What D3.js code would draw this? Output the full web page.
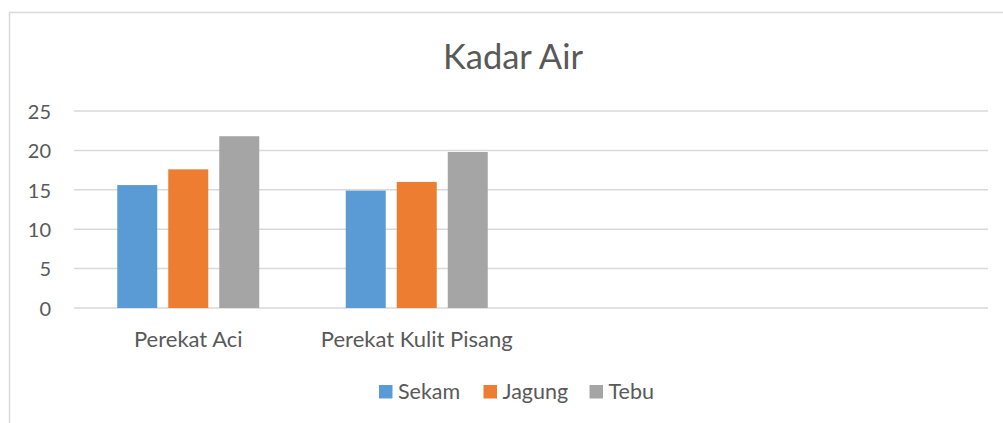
<!DOCTYPE html>
<html>
<head>
<meta charset="utf-8">
<script src="https://cdn.jsdelivr.net/npm/d3@7"></script>
<style>
  html, body { margin: 0; padding: 0; background: #fff; }
  svg { display: block; }
  text { font-family: Lato, "Open Sans", sans-serif; fill: #595959; }
</style>
</head>
<body>
<svg id="chart" width="1003" height="423"></svg>
<script>
const title = "Kadar Air";
const categories = ["Perekat Aci", "Perekat Kulit Pisang", "", ""];
const seriesNames = ["Sekam", "Jagung", "Tebu"];
const sekam = [15.6, 14.9, null, null];
const jagung = [17.6, 16.0, null, null];
const tebu = [21.8, 19.8, null, null];
const yTicks = [0, 5, 10, 15, 20, 25];
const colors = ["#5b9bd5", "#ed7d31", "#a5a5a5"];

const seriesValues = [sekam, jagung, tebu];

const svg = d3.select("#chart");
const W = 1003, H = 423;

// outer chart border
svg.append("rect")
  .attr("x", 9.5).attr("y", 12.5)
  .attr("width", W + 10).attr("height", H + 10)
  .attr("fill", "none").attr("stroke", "#d9d9d9").attr("stroke-width", 1.5);

const plot = { left: 74, right: 988, top: 111, bottom: 308 };

const x = d3.scaleBand()
  .domain(d3.range(categories.length))
  .range([plot.left, plot.right]);

const groupWidth = 142;
const xs = d3.scaleBand()
  .domain(seriesNames)
  .range([0, groupWidth])
  .paddingInner(0.216)
  .paddingOuter(0);

const y = d3.scaleLinear().domain([0, 25]).range([plot.bottom, plot.top]);

// gridlines
svg.append("g")
  .selectAll("line")
  .data(yTicks)
  .join("line")
  .attr("x1", plot.left).attr("x2", plot.right)
  .attr("y1", d => y(d)).attr("y2", d => y(d))
  .attr("stroke", "#d9d9d9").attr("stroke-width", 1.5);

// y axis labels
const yAxis = d3.axisLeft(y).tickValues(yTicks).tickSize(0).tickPadding(0);
const yg = svg.append("g").attr("transform", `translate(51,0)`).call(yAxis);
yg.select(".domain").remove();
yg.selectAll("text")
  .attr("font-family", "Lato, 'Open Sans', sans-serif")
  .attr("font-size", 20)
  .attr("fill", "#595959")
  .attr("dy", "0.36em");

// bars
const bars = svg.append("g");
categories.forEach((c, i) => {
  const gx = x(i) + (x.bandwidth() - groupWidth) / 2;
  seriesNames.forEach((s, k) => {
    const v = seriesValues[k][i];
    if (v == null) return;
    bars.append("rect")
      .attr("x", gx + xs(s))
      .attr("y", y(v))
      .attr("width", xs.bandwidth())
      .attr("height", y(0) - y(v))
      .attr("fill", colors[k]);
  });
});

// x axis category labels
const xAxis = d3.axisBottom(x).tickFormat(i => categories[i]).tickSize(0).tickPadding(0);
const xg = svg.append("g").attr("transform", `translate(0,${plot.bottom})`).call(xAxis);
xg.select(".domain").remove();
xg.selectAll("text")
  .attr("font-family", "Lato, 'Open Sans', sans-serif")
  .attr("font-size", 22)
  .attr("fill", "#595959")
  .attr("dy", null)
  .attr("y", 38.5);

// title
svg.append("text")
  .attr("x", 513).attr("y", 69)
  .attr("text-anchor", "middle")
  .attr("font-size", 34.5)
  .text(title);

// legend
const legendX = [379, 483.5, 589.5];
const lg = svg.append("g");
seriesNames.forEach((s, k) => {
  lg.append("rect")
    .attr("x", legendX[k]).attr("y", 385)
    .attr("width", 13.5).attr("height", 13.5)
    .attr("fill", colors[k]);
  lg.append("text")
    .attr("x", legendX[k] + 19).attr("y", 399)
    .attr("font-size", 21.5)
    .text(s);
});
</script>
</body>
</html>
